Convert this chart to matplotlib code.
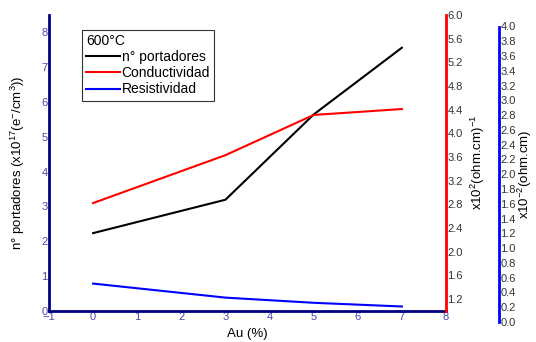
import numpy as np
import matplotlib.pyplot as plt

plt.rcParams['font.family'] = ['Liberation Sans', 'DejaVu Sans']
plt.rcParams['mathtext.fontset'] = 'custom'
plt.rcParams['mathtext.rm'] = 'Liberation Sans'
plt.rcParams['mathtext.it'] = 'Liberation Sans'

# Au content (%) and measured values at 600 °C
au = [0, 3, 5, 7]
portadores = [2.23, 3.19, 5.64, 7.56]       # x10^17 e/cm^3
conductividad = [2.82, 3.63, 4.31, 4.41]    # x10^2 (ohm.cm)^-1
resistividad = [0.52, 0.33, 0.26, 0.21]     # x10^-2 ohm.cm

x_ticks = list(range(-1, 9))
left_ticks = list(range(0, 9))
red_ticks = np.round(np.arange(1.2, 6.01, 0.4), 1)
blue_ticks = np.round(np.arange(0.0, 4.01, 0.2), 1)

navy = '#000080'
tick_col = '#4848a8'

fig = plt.figure(figsize=(5.36, 3.42), dpi=100)
ax = fig.add_axes([49 / 536, 1 - 310.7 / 342, 397 / 536, 295.7 / 342])

l1, = ax.plot(au, portadores, color='black', lw=1.5)
ax.set_xlim(-1, 8)
ax.set_ylim(0, 8.5)
ax.set_xticks(x_ticks)
ax.set_yticks(left_ticks)
for s in ['left', 'bottom']:
    ax.spines[s].set_color(navy)
    ax.spines[s].set_linewidth(2)
ax.spines['top'].set_visible(False)
ax.spines['right'].set_visible(False)
ax.tick_params(axis='both', length=0, pad=1, labelsize=8, labelcolor=tick_col)
ax.set_xlabel('Au (%)', fontsize=9.5, labelpad=4)
ax.set_ylabel('n° portadores (x10$^{17}$(e$^{-}$/cm$^{3}$))', fontsize=9.5, labelpad=10)

# conductivity on the red right axis
ax2 = ax.twinx()
l2, = ax2.plot(au, conductividad, color='red', lw=1.5)
ax2.set_ylim(1.0, 6.0)
ax2.set_yticks(red_ticks)
ax2.set_yticklabels([f'{v:.1f}' for v in red_ticks])
for s in ['left', 'top', 'bottom']:
    ax2.spines[s].set_visible(False)
ax2.spines['right'].set_color('red')
ax2.spines['right'].set_linewidth(2)
ax2.tick_params(axis='y', length=0, pad=1, labelsize=8, labelcolor='#333333')
ax2.set_ylabel('x10$^{2}$(ohm.cm)$^{-1}$', fontsize=9.5, labelpad=4)

# resistivity on a separate, slightly lower blue axis
ax3 = fig.add_axes([49 / 536, 1 - 322 / 342, 397 / 536, 295.5 / 342])
ax3.patch.set_visible(False)
l3, = ax3.plot(au, resistividad, color='blue', lw=1.5)
ax3.set_xlim(-1, 8)
ax3.set_ylim(0, 4.0)
ax3.set_xticks([])
ax3.yaxis.tick_right()
ax3.yaxis.set_label_position('right')
ax3.set_yticks(blue_ticks)
ax3.set_yticklabels([f'{v:.1f}' for v in blue_ticks])
for s in ['left', 'top', 'bottom']:
    ax3.spines[s].set_visible(False)
ax3.spines['right'].set_position(('axes', 450 / 397))
ax3.spines['right'].set_color('blue')
ax3.spines['right'].set_linewidth(2)
ax3.tick_params(axis='y', length=0, pad=1, labelsize=8, labelcolor='#333333')
ax3.set_ylabel('x10$^{-2}$(ohm.cm)', fontsize=9.5, labelpad=0)

leg = ax3.legend([l1, l2, l3], ['n° portadores', 'Conductividad', 'Resistividad'],
                 title='600°C', loc='upper left',
                 bbox_to_anchor=(82 / 536, 1 - 30 / 342), bbox_transform=fig.transFigure,
                 fontsize=10, title_fontsize=10, alignment='left',
                 frameon=True, fancybox=False, edgecolor='black',
                 handlelength=2.4, handletextpad=0.15, borderpad=0.3,
                 labelspacing=0.15, borderaxespad=0)
leg.get_frame().set_linewidth(0.8)

fig.savefig('out.png', dpi=100)
